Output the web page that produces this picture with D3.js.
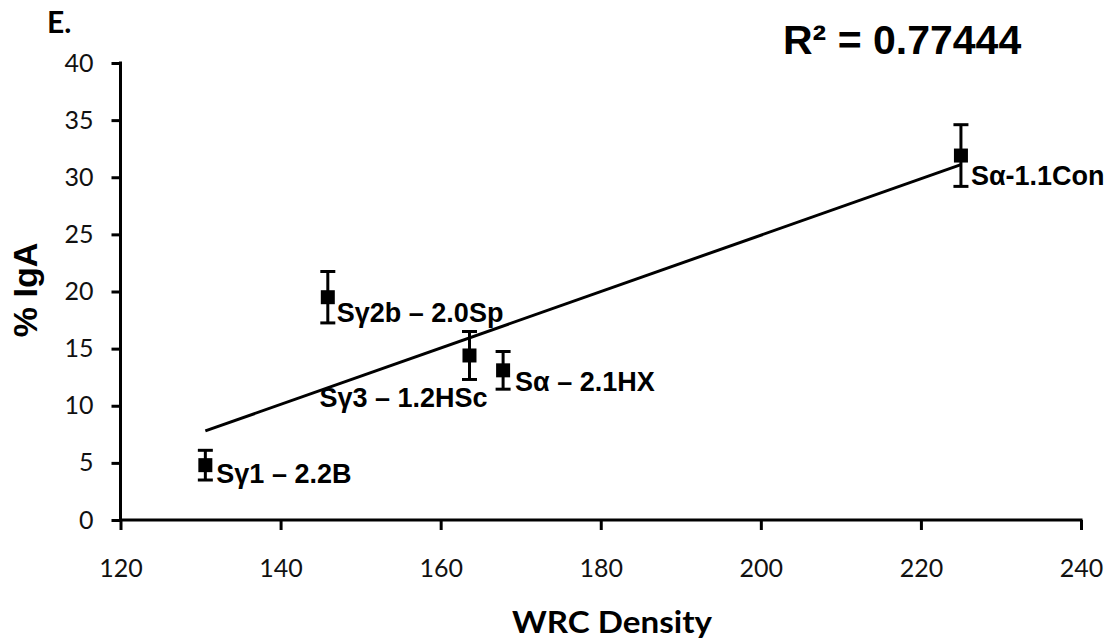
<!DOCTYPE html>
<html><head><meta charset="utf-8">
<script src="https://cdn.jsdelivr.net/npm/d3@7/dist/d3.min.js"></script>
<style>html,body{margin:0;padding:0;background:#fff;}svg{display:block;}</style>
</head><body>
<svg id="chart" width="1115" height="643"></svg>
<script>
// ---- data ----
const labels = ["Sγ1 – 2.2B", "Sγ2b – 2.0Sp", "Sγ3 – 1.2HSc", "Sα – 2.1HX", "Sα-1.1Con"];
const wrcDensity = [130.6, 145.9, 163.6, 167.8, 225.0];
const pctIgA = [4.8, 19.5, 14.4, 13.1, 31.9];
const errIgA = [1.3, 2.25, 2.1, 1.65, 2.7];
const trendX = [130.6, 225.0];
const trendY = [7.8, 31.1];
const xTicks = [120, 140, 160, 180, 200, 220, 240];
const yTicks = [0, 5, 10, 15, 20, 25, 30, 35, 40];
const rSquaredText = "R² = 0.77444";

// ---- layout ----
const labelOffsets = [[11, 18], [9, 25], [-150, 52], [12, 21], [10, 29]];
const svg = d3.select("#chart");
const x = d3.scaleLinear().domain([120, 240]).range([120.5, 1081]);
const y = d3.scaleLinear().domain([0, 40]).range([520, 63]);
const tickFont = "Lato, 'Open Sans', sans-serif";
const boldFont = "'Liberation Sans', Arial, sans-serif";

// axes
const yAxis = svg.append("g").attr("transform", `translate(${x(120)},0)`)
  .call(d3.axisLeft(y).tickValues(yTicks).tickSize(9).tickPadding(18).tickSizeOuter(0));
const xAxis = svg.append("g").attr("transform", `translate(0,${y(0)})`)
  .call(d3.axisBottom(x).tickValues(xTicks).tickSize(10).tickPadding(29).tickSizeOuter(0));
[yAxis, xAxis].forEach(g => {
  g.select(".domain").attr("stroke", "#000").attr("stroke-width", 3);
  g.selectAll(".tick line").attr("stroke", "#000").attr("stroke-width", 3);
  g.selectAll(".tick text").attr("fill", "#111").style("font-family", tickFont).style("font-size", "25px");
});
xAxis.select(".domain").attr("d", `M${x(120)-1.5},0H${x(240)+1.5}`);
yAxis.select(".domain").attr("d", `M0,${y(40)-1.5}V${y(0)+1.5}`);

// trend line
svg.append("line")
  .attr("x1", x(trendX[0])).attr("y1", y(trendY[0]))
  .attr("x2", x(trendX[1])).attr("y2", y(trendY[1]))
  .attr("stroke", "#000").attr("stroke-width", 3);

// error bars + markers
const pts = labels.map((l, i) => ({l, xv: wrcDensity[i], yv: pctIgA[i], e: errIgA[i], off: labelOffsets[i]}));
const g = svg.append("g");
pts.forEach(p => {
  const cx = x(p.xv), cy = y(p.yv), top = y(p.yv + p.e), bot = y(p.yv - p.e);
  g.append("line").attr("x1", cx).attr("x2", cx).attr("y1", top).attr("y2", bot).attr("stroke", "#000").attr("stroke-width", 3);
  [top, bot].forEach(v => g.append("line").attr("x1", cx - 7.5).attr("x2", cx + 7.5).attr("y1", v).attr("y2", v).attr("stroke", "#000").attr("stroke-width", 3));
  g.append("rect").attr("x", cx - 7).attr("y", cy - 7).attr("width", 14).attr("height", 14).attr("fill", "#000");
  g.append("text").attr("x", cx + p.off[0]).attr("y", cy + p.off[1]).text(p.l)
    .style("font-family", boldFont).style("font-weight", "bold").style("font-size", "27px").attr("fill", "#000");
});

// titles
svg.append("text").attr("x", 783).attr("y", 54).text(rSquaredText)
  .style("font-family", boldFont).style("font-weight", "bold").style("font-size", "41px");
svg.append("text").attr("x", 47).attr("y", 33).text("E.")
  .style("font-family", tickFont).style("font-weight", "bold").style("font-size", "30px");
svg.append("text").attr("x", 512).attr("y", 633).text("WRC Density")
  .attr("textLength", 200).attr("lengthAdjust", "spacingAndGlyphs")
  .style("font-family", tickFont).style("font-weight", "bold").style("font-size", "30px");
svg.append("text").attr("transform", "translate(37,290) rotate(-90)").attr("text-anchor", "middle").text("% IgA")
  .style("font-family", boldFont).style("font-weight", "bold").style("font-size", "34px");
</script>
</body></html>
